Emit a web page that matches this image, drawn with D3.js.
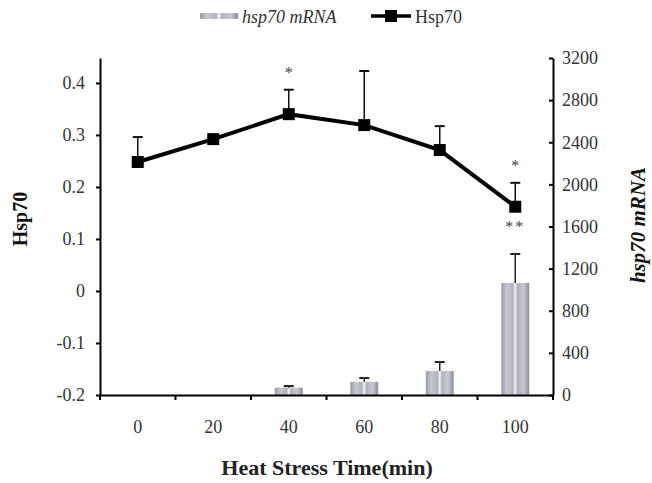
<!doctype html>
<html>
<head>
<meta charset="utf-8">
<script src="https://cdn.jsdelivr.net/npm/d3@7"></script>
<style>
  body { margin: 0; background: #fff; }
  text { font-family: "Liberation Serif", "DejaVu Serif", serif; }
</style>
</head>
<body>
<svg width="652" height="483"></svg>
<script>
// data
var times = ["0", "20", "40", "60", "80", "100"];
var protein = [0.248, 0.292, 0.340, 0.319, 0.271, 0.162];      // Hsp70 (left axis)
var proteinErr = [0.048, 0, 0.047, 0.104, 0.046, 0.046];
var mrna = [0, 0, 70, 125, 228, 1064];                           // hsp70 mRNA (right axis)
var mrnaErr = [0, 0, 15, 36, 85, 275];
var leftTicks = [-0.2, -0.1, 0, 0.1, 0.2, 0.3, 0.4];
var rightTicks = [0, 400, 800, 1200, 1600, 2000, 2400, 2800, 3200];
var starsAbove = ["", "", "*", "", "", "*"];
var starsBelow = ["", "", "", "", "", "**"];

var svg = d3.select("svg");
var plotLeft = 100, plotRight = 553, plotTop = 58, plotBottom = 395;

var x = d3.scaleBand().domain(times).range([plotLeft, plotRight]).padding(0);
var yL = d3.scaleLinear().domain([-0.2, 0.448]).range([plotBottom, plotTop]);
var yR = d3.scaleLinear().domain([0, 3200]).range([plotBottom, plotTop]);

// bar gradient
var defs = svg.append("defs");
var grad = defs.append("linearGradient").attr("id", "barGrad")
  .attr("x1", "0%").attr("x2", "100%").attr("y1", "0%").attr("y2", "0%");
[[0, "#9a9ca9"], [0.2, "#c6c8d1"], [0.42, "#b0b2bd"], [0.5, "#f4f4f8"], [0.58, "#aeb0bb"],
 [0.8, "#c8c9d2"], [1, "#8a8c99"]].forEach(function (s) {
  grad.append("stop").attr("offset", s[0]).attr("stop-color", s[1]);
});

var bw = x.bandwidth() * 0.37;
var cx = function (i) { return x(times[i]) + x.bandwidth() / 2; };

// bars
svg.append("g").selectAll("rect")
  .data(mrna)
  .enter().append("rect")
  .attr("x", function (d, i) { return cx(i) - bw / 2; })
  .attr("y", function (d) { return yR(d); })
  .attr("width", bw)
  .attr("height", function (d) { return plotBottom - yR(d); })
  .attr("fill", "url(#barGrad)");

// bar error bars
var be = svg.append("g").attr("stroke", "#222").attr("stroke-width", 1.5);
mrna.forEach(function (d, i) {
  if (!mrnaErr[i]) return;
  be.append("line").attr("x1", cx(i)).attr("x2", cx(i)).attr("y1", yR(d)).attr("y2", yR(d + mrnaErr[i]));
  be.append("line").attr("x1", cx(i) - 5).attr("x2", cx(i) + 5)
    .attr("y1", yR(d + mrnaErr[i])).attr("y2", yR(d + mrnaErr[i])).attr("stroke-width", 2);
});

// line error bars
var le = svg.append("g").attr("stroke", "#111").attr("stroke-width", 1.5);
protein.forEach(function (d, i) {
  if (!proteinErr[i]) return;
  le.append("line").attr("x1", cx(i)).attr("x2", cx(i)).attr("y1", yL(d)).attr("y2", yL(d + proteinErr[i]));
  le.append("line").attr("x1", cx(i) - 5).attr("x2", cx(i) + 5)
    .attr("y1", yL(d + proteinErr[i])).attr("y2", yL(d + proteinErr[i])).attr("stroke-width", 2);
});

// line
svg.append("path")
  .datum(protein)
  .attr("fill", "none")
  .attr("stroke", "#000")
  .attr("stroke-width", 4)
  .attr("d", d3.line().x(function (d, i) { return cx(i); }).y(function (d) { return yL(d); }));

svg.append("g").selectAll("rect")
  .data(protein)
  .enter().append("rect")
  .attr("x", function (d, i) { return cx(i) - 6; })
  .attr("y", function (d) { return yL(d) - 6; })
  .attr("width", 12).attr("height", 12)
  .attr("fill", "#000");

// significance stars
svg.append("g").selectAll("text")
  .data(starsAbove)
  .enter().append("text")
  .attr("x", function (d, i) { return cx(i); })
  .attr("y", function (d, i) { return yL(protein[i] + proteinErr[i]) - 12; })
  .attr("text-anchor", "middle").attr("font-size", 16).attr("fill", "#444")
  .text(function (d) { return d; });
svg.append("g").selectAll("text")
  .data(starsBelow)
  .enter().append("text")
  .attr("x", function (d, i) { return cx(i); })
  .attr("y", function (d, i) { return yL(protein[i]) + 25; })
  .attr("text-anchor", "middle").attr("font-size", 16).attr("fill", "#444")
  .attr("letter-spacing", 2)
  .text(function (d) { return d; });

// left axis
var axL = svg.append("g").attr("transform", "translate(" + plotLeft + ",0)")
  .call(d3.axisLeft(yL).tickValues(leftTicks).tickSize(4).tickSizeOuter(0)
    .tickFormat(function (d) { return String(+d.toFixed(1)); }));
// right axis
var axR = svg.append("g").attr("transform", "translate(" + plotRight + ",0)")
  .call(d3.axisRight(yR).tickValues(rightTicks).tickSize(0).tickPadding(9).tickSizeOuter(0)
    .tickFormat(d3.format("d")));
axR.selectAll(".tick").append("line").attr("x1", -4).attr("x2", 0).attr("stroke", "#000").attr("stroke-width", 2);
// bottom axis
var axB = svg.append("g").attr("transform", "translate(0," + plotBottom + ")")
  .call(d3.axisBottom(x).tickSize(0).tickPadding(25).tickSizeOuter(0));
times.concat([null]).forEach(function (t) {
  var px = t === null ? plotRight : x(t);
  axB.append("line").attr("x1", px).attr("x2", px).attr("y1", 0).attr("y2", 5)
    .attr("stroke", "#000").attr("stroke-width", 2);
});

[axL, axR, axB].forEach(function (g) {
  g.select(".domain").attr("stroke", "#000").attr("stroke-width", 2);
  g.selectAll(".tick line").attr("stroke-width", 2);
  g.selectAll(".tick text").attr("font-size", 18).attr("fill", "#333")
    .attr("font-family", "Liberation Serif, serif");
});
axL.selectAll(".tick text").attr("x", -15);

// axis titles
svg.append("text").attr("transform", "translate(27,219) rotate(-90)")
  .attr("text-anchor", "middle").attr("font-size", 20).attr("font-weight", "bold")
  .attr("fill", "#111").text("Hsp70");
svg.append("text").attr("transform", "translate(645,225) rotate(-90)")
  .attr("text-anchor", "middle").attr("font-size", 21).attr("font-weight", "bold")
  .attr("font-style", "italic").attr("fill", "#111").text("hsp70 mRNA");
svg.append("text").attr("x", 327).attr("y", 475)
  .attr("text-anchor", "middle").attr("font-size", 22).attr("font-weight", "bold")
  .attr("fill", "#222").text("Heat Stress Time(min)");

// legend
var lg = svg.append("g");
lg.append("rect").attr("x", 200).attr("y", 13).attr("width", 38).attr("height", 6)
  .attr("fill", "url(#barGrad)");
lg.append("text").attr("x", 242).attr("y", 23).attr("font-size", 18)
  .attr("font-style", "italic").attr("fill", "#333").text("hsp70 mRNA");
lg.append("line").attr("x1", 371).attr("x2", 411).attr("y1", 16).attr("y2", 16)
  .attr("stroke", "#000").attr("stroke-width", 3.5);
lg.append("rect").attr("x", 385).attr("y", 10).attr("width", 12).attr("height", 12).attr("fill", "#000");
lg.append("text").attr("x", 415).attr("y", 23).attr("font-size", 18)
  .attr("fill", "#333").text("Hsp70");
</script>
</body>
</html>
